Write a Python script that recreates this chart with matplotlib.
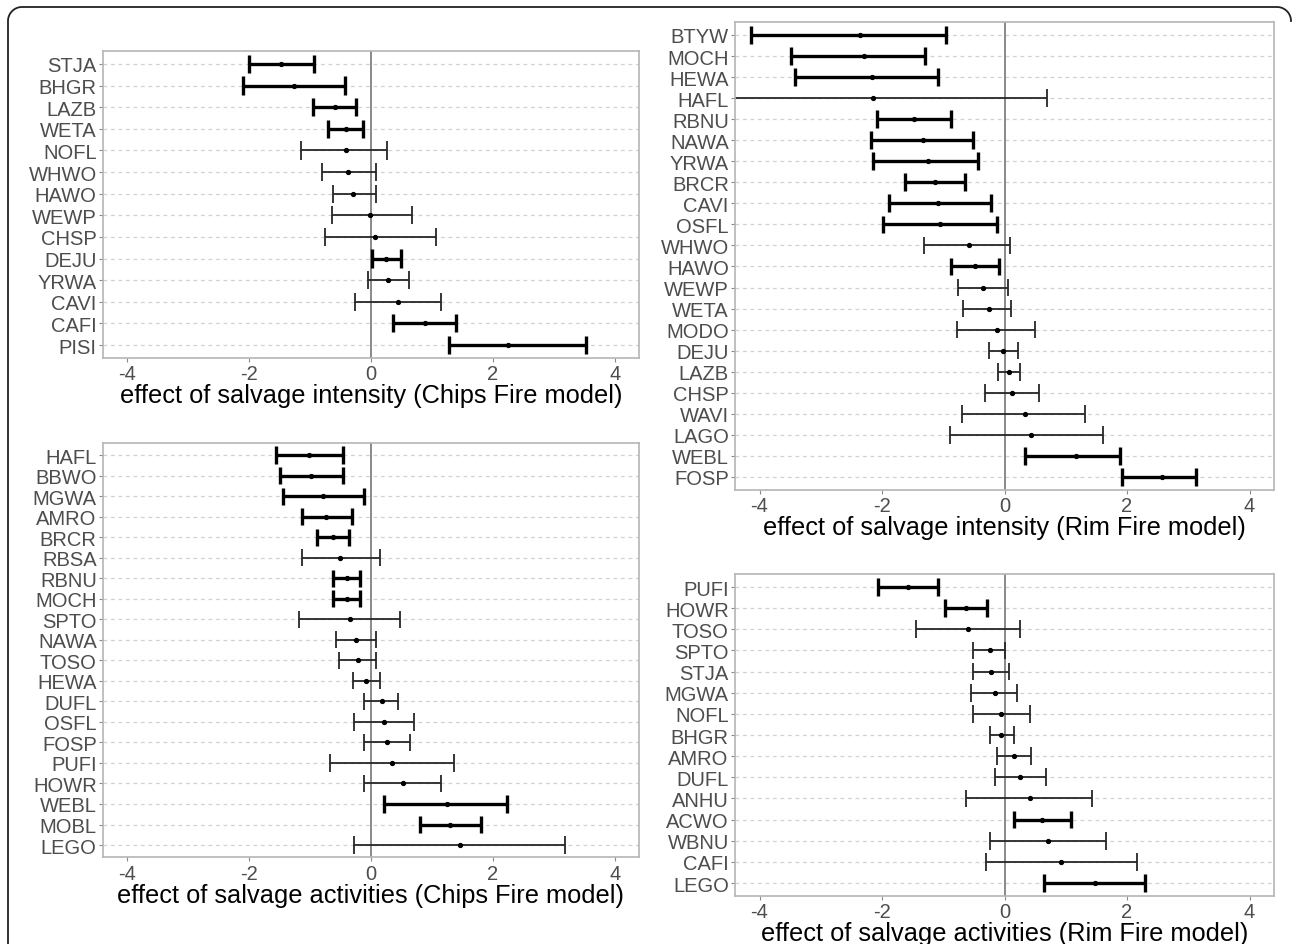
import numpy as np
import matplotlib
matplotlib.use("Agg")
import matplotlib.pyplot as plt
from matplotlib.lines import Line2D

plt.rcParams['font.family'] = ['Liberation Sans', 'DejaVu Sans']
plt.rcParams['axes.unicode_minus'] = False

# Chips Fire, salvage intensity
chips_int_sp = ["STJA", "BHGR", "LAZB", "WETA", "NOFL", "WHWO", "HAWO",
                "WEWP", "CHSP", "DEJU", "YRWA", "CAVI", "CAFI", "PISI"]
chips_int_mean = [-1.47, -1.27, -0.59, -0.41, -0.41, -0.38, -0.29,
                  -0.01, 0.07, 0.24, 0.28, 0.45, 0.88, 2.25]
chips_int_lo = [-2.00, -2.10, -0.95, -0.70, -1.15, -0.81, -0.62,
                -0.64, -0.75, 0.01, -0.05, -0.27, 0.36, 1.28]
chips_int_hi = [-0.93, -0.43, -0.25, -0.13, 0.27, 0.09, 0.08,
                0.67, 1.06, 0.49, 0.63, 1.15, 1.40, 3.53]

# Chips Fire, salvage activities
chips_act_sp = ["HAFL", "BBWO", "MGWA", "AMRO", "BRCR", "RBSA", "RBNU",
                "MOCH", "SPTO", "NAWA", "TOSO", "HEWA", "DUFL", "OSFL",
                "FOSP", "PUFI", "HOWR", "WEBL", "MOBL", "LEGO"]
chips_act_mean = [-1.01, -0.98, -0.78, -0.74, -0.63, -0.51, -0.40,
                  -0.40, -0.35, -0.25, -0.21, -0.08, 0.18, 0.21,
                  0.26, 0.34, 0.53, 1.24, 1.30, 1.46]
chips_act_lo = [-1.56, -1.50, -1.44, -1.14, -0.88, -1.14, -0.63,
                -0.63, -1.18, -0.58, -0.52, -0.30, -0.11, -0.28,
                -0.12, -0.68, -0.12, 0.21, 0.81, -0.28]
chips_act_hi = [-0.46, -0.46, -0.11, -0.32, -0.36, 0.14, -0.18,
                -0.18, 0.48, 0.08, 0.09, 0.14, 0.45, 0.70,
                0.64, 1.37, 1.15, 2.23, 1.81, 3.18]

# Rim Fire, salvage intensity
rim_int_sp = ["BTYW", "MOCH", "HEWA", "HAFL", "RBNU", "NAWA", "YRWA",
              "BRCR", "CAVI", "OSFL", "WHWO", "HAWO", "WEWP", "WETA",
              "MODO", "DEJU", "LAZB", "CHSP", "WAVI", "LAGO", "WEBL", "FOSP"]
rim_int_mean = [-2.36, -2.29, -2.16, -2.14, -1.48, -1.33, -1.25,
                -1.13, -1.09, -1.06, -0.58, -0.49, -0.35, -0.26,
                -0.12, -0.02, 0.07, 0.13, 0.34, 0.44, 1.17, 2.57]
rim_int_lo = [-4.14, -3.48, -3.42, -4.97, -2.08, -2.18, -2.15,
              -1.62, -1.88, -1.99, -1.32, -0.88, -0.76, -0.67,
              -0.78, -0.26, -0.10, -0.32, -0.69, -0.89, 0.34, 1.92]
rim_int_hi = [-0.95, -1.30, -1.08, 0.69, -0.88, -0.51, -0.44,
              -0.65, -0.22, -0.13, 0.09, -0.09, 0.05, 0.11,
              0.50, 0.22, 0.26, 0.57, 1.31, 1.61, 1.89, 3.13]

# Rim Fire, salvage activities
rim_act_sp = ["PUFI", "HOWR", "TOSO", "SPTO", "STJA", "MGWA", "NOFL",
              "BHGR", "AMRO", "DUFL", "ANHU", "ACWO", "WBNU", "CAFI", "LEGO"]
rim_act_mean = [-1.58, -0.63, -0.59, -0.24, -0.22, -0.16, -0.05,
                -0.05, 0.16, 0.26, 0.41, 0.61, 0.71, 0.92, 1.47]
rim_act_lo = [-2.07, -0.97, -1.45, -0.51, -0.52, -0.54, -0.51,
              -0.24, -0.12, -0.16, -0.63, 0.16, -0.24, -0.31, 0.64]
rim_act_hi = [-1.09, -0.28, 0.25, 0.01, 0.07, 0.21, 0.41,
              0.16, 0.43, 0.68, 1.43, 1.08, 1.66, 2.16, 2.29]


def forest(ax, sp, mean, lo, hi, xlabel):
    n = len(sp)
    y = np.arange(n)
    mean = np.array(mean)
    lo = np.array(lo)
    hi = np.array(hi)
    sig = (lo > 0) | (hi < 0)
    for yy in y:
        ax.axhline(yy, color="#d0d0d0", lw=0.9, ls=(0, (3, 3)), zorder=0)
    ax.axvline(0, color="#6a6a6a", lw=1.1, zorder=1)
    for i in range(n):
        lw = 2.4 if sig[i] else 1.3
        col = "black" if sig[i] else "#262626"
        ax.hlines(y[i], lo[i], hi[i], color=col, lw=lw, zorder=2)
        ax.vlines([lo[i], hi[i]], y[i] - 0.42, y[i] + 0.42, color=col, lw=lw, zorder=2)
    ax.plot(mean, y, "o", color="black", ms=2.8, zorder=3)
    ax.set_xlim(-4.4, 4.4)
    ax.set_ylim(n - 1 + 0.6, -0.6)
    ax.set_yticks(y)
    ax.set_yticklabels(sp)
    ax.set_xticks([-4, -2, 0, 2, 4])
    ax.tick_params(axis="both", colors="#8a8a8a", labelcolor="#4d4d4d",
                   labelsize=14.5, length=3, width=0.8, pad=1.5)
    for s in ax.spines.values():
        s.set_color("#b5b5b5")
        s.set_linewidth(1.2)
    ax.set_xlabel(xlabel, fontsize=18.3, color="black", labelpad=0)


fig = plt.figure(figsize=(12.92, 9.45), dpi=100)

ax1 = fig.add_axes([0.0797, 0.6201, 0.4149, 0.3249])
forest(ax1, chips_int_sp, chips_int_mean, chips_int_lo, chips_int_hi,
       "effect of salvage intensity (Chips Fire model)")

ax2 = fig.add_axes([0.0797, 0.0917, 0.4149, 0.4387])
forest(ax2, chips_act_sp, chips_act_mean, chips_act_lo, chips_act_hi,
       "effect of salvage activities (Chips Fire model)")

ax3 = fig.add_axes([0.5689, 0.4809, 0.4172, 0.4944])
forest(ax3, rim_int_sp, rim_int_mean, rim_int_lo, rim_int_hi,
       "effect of salvage intensity (Rim Fire model)")

ax4 = fig.add_axes([0.5689, 0.0511, 0.4172, 0.3401])
forest(ax4, rim_act_sp, rim_act_mean, rim_act_lo, rim_act_hi,
       "effect of salvage activities (Rim Fire model)")

# outer frame (top and left edges with rounded corners)
W, H = 1292.0, 945.0
r = 14.0
t = np.linspace(0, np.pi / 2, 20)
px = np.concatenate([[8.0], 8 + r - r * np.cos(t), [1291 - r],
                     1291 - r + r * np.sin(t)])
py = np.concatenate([[H + 5], 8 + r - r * np.sin(t), [8.0],
                     8 + r - r * np.cos(t)])
fig.add_artist(Line2D(px / W, 1 - py / H, transform=fig.transFigure,
                      color="#222222", lw=1.3))

fig.savefig("out.png", dpi=100)
